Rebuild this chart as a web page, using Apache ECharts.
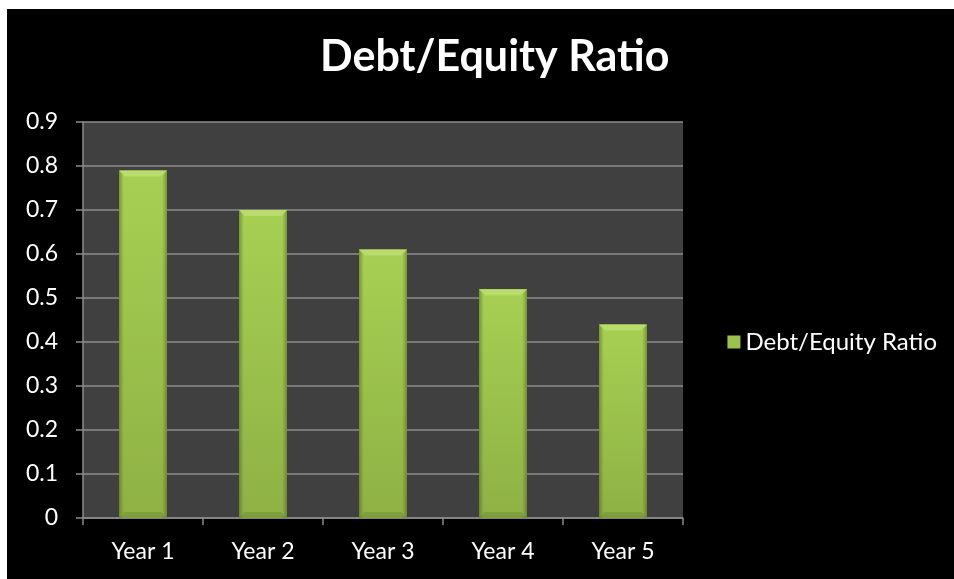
<!DOCTYPE html>
<html>
<head>
<meta charset="utf-8">
<script src="https://cdn.jsdelivr.net/npm/echarts@6/dist/echarts.min.js"></script>
<style>
html,body{margin:0;padding:0;background:#fff;width:954px;height:579px;overflow:hidden;}
#c{position:absolute;left:7px;top:9px;width:947px;height:570px;background:#000;}
</style>
</head>
<body>
<div id="c"></div>
<script>
const categories = ['Year 1','Year 2','Year 3','Year 4','Year 5'];
const ratioValues = [0.79, 0.70, 0.61, 0.52, 0.44];
const seriesName = 'Debt/Equity Ratio';
const titleText = 'Debt/Equity Ratio';

const chart = echarts.init(document.getElementById('c'), null, {renderer:'canvas'});
const FONT = 'Lato, "Open Sans", sans-serif';

function renderBar(params, api) {
  const i = api.value(0);
  const v = api.value(1);
  const top = api.coord([i, v]);
  const base = api.coord([i, 0]);
  const w = api.size([1, 0])[0] * 0.4;
  const x0 = top[0] - w / 2, x1 = top[0] + w / 2;
  const y0 = top[1], y1 = base[1];
  const b = 6;
  return {
    type: 'group',
    children: [
      { type: 'rect', shape: {x: x0, y: y0, width: w, height: y1 - y0},
        style: { fill: new echarts.graphic.LinearGradient(0,0,0,1,[
          {offset:0,color:'#a6d052'},{offset:1,color:'#8fb145'}]) } },
      { type: 'rect', shape: {x: x0, y: y0, width: w, height: y1 - y0},
        style: { fill: new echarts.graphic.LinearGradient(0,0,1,0,[
          {offset:0,color:'rgba(60,80,20,0.45)'},{offset:0.1,color:'rgba(60,80,20,0)'},
          {offset:0.9,color:'rgba(60,80,20,0)'},{offset:1,color:'rgba(60,80,20,0.45)'}]) } },
      { type: 'polygon', shape: {points: [[x0,y0],[x1,y0],[x1-b,y0+b],[x0+b,y0+b]]},
        style: { fill: '#b9dc6c' } },
      { type: 'polygon', shape: {points: [[x0,y1],[x1,y1],[x1-b,y1-b],[x0+b,y1-b]]},
        style: { fill: 'rgba(110,140,50,0.5)' } }
    ]
  };
}

chart.setOption({
  backgroundColor: '#000',
  animation: false,
  title: {
    text: titleText, left: 308, top: 22,
    textStyle: {color:'#fff', fontFamily: FONT, fontWeight:'bold', fontSize: 43}
  },
  legend: {
    data: [{name: seriesName, icon: 'rect'}],
    right: 12, top: 316, orient: 'vertical',
    itemWidth: 13, itemHeight: 13, itemGap: 6,
    textStyle: {color:'#fff', fontFamily: FONT, fontSize: 24}
  },
  grid: {left: 76, top: 113, right: 271, bottom: 61, show: true, backgroundColor: '#404040', borderWidth: 0},
  xAxis: {
    type: 'category', data: categories,
    axisLine: {show: true, lineStyle: {color:'#8c8c8c', width: 1.5}},
    axisTick: {show: true, alignWithLabel: false, length: 7, lineStyle: {color:'#8c8c8c', width: 1.5}},
    axisLabel: {color:'#fff', fontFamily: FONT, fontSize: 23, margin: 22}
  },
  yAxis: {
    type: 'value', min: 0, max: 0.9, interval: 0.1,
    axisLine: {show: true, lineStyle: {color:'#8c8c8c', width: 1.5}},
    axisTick: {show: true, length: 7, lineStyle: {color:'#8c8c8c', width: 1.5}},
    splitLine: {show: true, lineStyle: {color:'#8c8c8c', width: 1.5}},
    axisLabel: {color:'#fff', fontFamily: FONT, fontSize: 23, margin: 25,
      formatter: v => (Math.round(v*10)/10).toString()}
  },
  series: [{
    name: seriesName, type: 'custom',
    itemStyle: {color: '#9cc24c'},
    encode: {x: 0, y: 1},
    data: ratioValues.map((v, i) => [i, v]),
    renderItem: renderBar
  }]
});
</script>
</body>
</html>
